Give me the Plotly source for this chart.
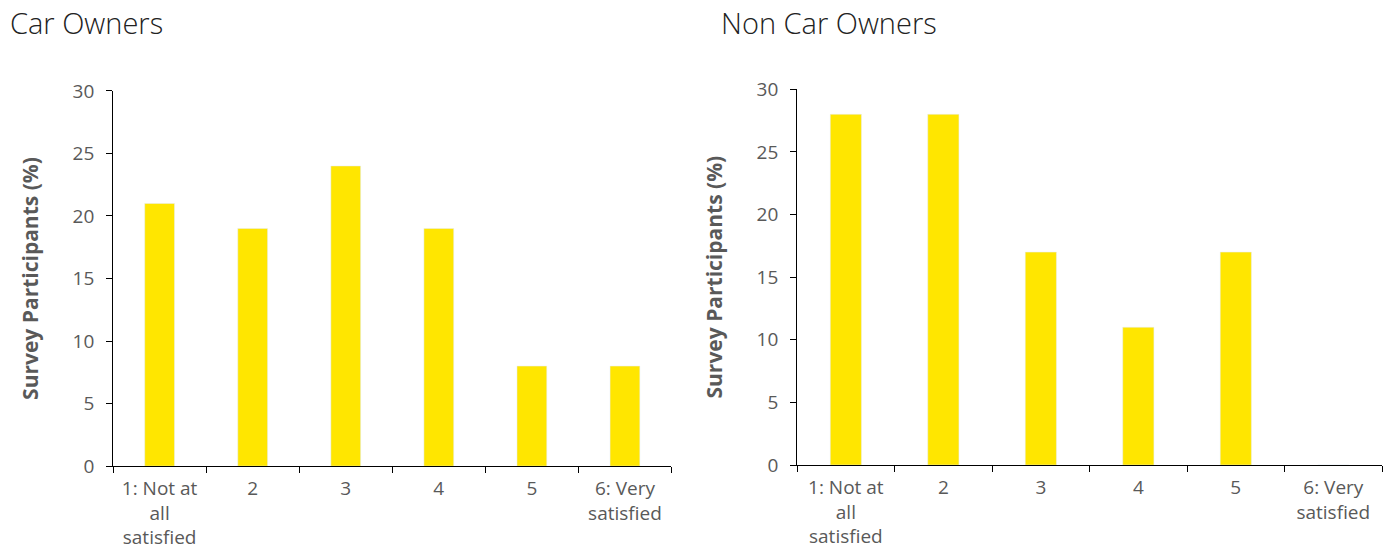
import plotly.graph_objects as go

categories = ["1: Not at<br>all<br>satisfied", "2", "3", "4", "5", "6: Very<br>satisfied"]
car_owners = [21, 19, 24, 19, 8, 8]
non_car_owners = [28, 28, 17, 11, 17, 0]
y_ticks = [0, 5, 10, 15, 20, 25, 30]

BAR = "#FFE600"
TEXT = "#595959"
FONT = "Open Sans"

fig = go.Figure()
fig.add_trace(go.Bar(x=categories, y=car_owners, marker_color=BAR, width=0.32,
                     xaxis="x", yaxis="y", showlegend=False))
fig.add_trace(go.Bar(x=categories, y=non_car_owners, marker_color=BAR, width=0.32,
                     xaxis="x2", yaxis="y2", showlegend=False))

xax = dict(type="category", tickson="boundaries", ticks="outside", ticklen=6,
           tickcolor="#000", showline=True, linecolor="#000", linewidth=1,
           showgrid=False, automargin=False, ticklabelstandoff=5,
           tickfont=dict(family=FONT, size=19, color=TEXT))
yax = dict(range=[0, 30], tickvals=y_ticks, ticks="outside", ticklen=6,
           tickcolor="#000", showline=True, linecolor="#000", linewidth=1,
           showgrid=False, zeroline=False, ticklabelstandoff=8, automargin=False,
           tickfont=dict(family=FONT, size=19, color=TEXT),
           title=dict(text="<b>Survey Participants (%)</b>", standoff=28,
                      font=dict(family=FONT, size=21, color=TEXT)))

fig.update_layout(
    width=1396, height=551,
    margin=dict(l=0, r=0, t=0, b=0),
    plot_bgcolor="white", paper_bgcolor="white",
    xaxis=dict(domain=[0.081, 0.481], anchor="y", **xax),
    yaxis=dict(domain=[0.154, 0.835], anchor="x", **yax),
    xaxis2=dict(domain=[0.571, 0.990], anchor="y2", **xax),
    yaxis2=dict(domain=[0.156, 0.838], anchor="x2", **yax),
    annotations=[
        dict(text="Car Owners", x=8 / 1396, y=1 - 23 / 551, xref="paper", yref="paper",
             xanchor="left", yanchor="middle", showarrow=False,
             font=dict(family=FONT, size=29, color="#222", weight=300)),
        dict(text="Non Car Owners", x=719 / 1396, y=1 - 23 / 551, xref="paper", yref="paper",
             xanchor="left", yanchor="middle", showarrow=False,
             font=dict(family=FONT, size=29, color="#222", weight=300)),
    ],
)

fig.write_html("out.html")
